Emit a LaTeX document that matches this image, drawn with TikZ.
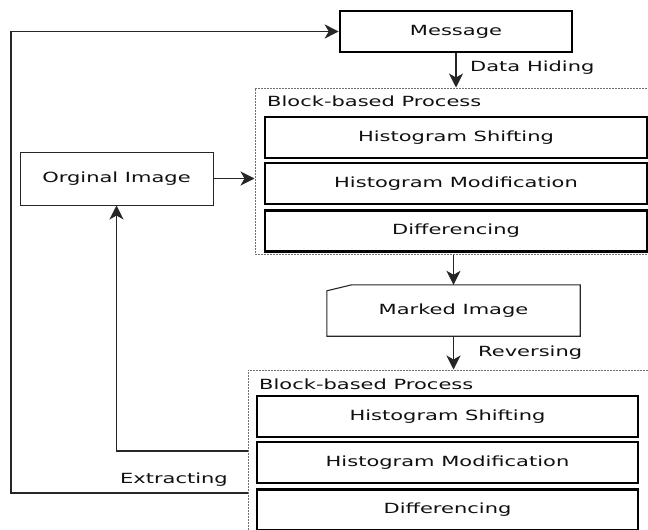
\documentclass[tikz,border=0pt]{standalone}
\usepackage{fontspec}
\setmainfont[FakeStretch=1.5]{DejaVu Sans}
\usetikzlibrary{arrows.meta}
\definecolor{txt}{HTML}{101010}
\definecolor{dotc}{HTML}{707070}
\begin{document}
\begin{tikzpicture}[x=1pt,y=-1pt,
  every node/.style={font=\fontsize{14}{16}\selectfont, text=txt, inner sep=0pt},
  thickbox/.style={draw=black, line width=2.6pt, minimum width=#1, minimum height=41pt},
  thinbox/.style={draw=black!85, line width=1pt},
  dotbox/.style={draw=dotc, line width=1pt, dash pattern=on 1.6pt off 1.4pt},
  conn/.style={draw=black!85, line width=1.3pt},
  arr/.style={conn, -{Stealth[length=14pt,width=14pt,inset=4pt]}}]
\useasboundingbox (0,0) rectangle (648,530);
% top
\node[thickbox=232pt] (msg) at (456,31.5) {Message};
\node[dotbox, minimum width=395pt, minimum height=166pt] (blk1) at (452.5,171) {};
\node[anchor=west] (t1) at (267,101) {Block-based Process};
\node[thickbox=382pt] (hs1) at (456,137.5) {Histogram Shifting};
\node[thickbox=382pt] (hm1) at (456,183.5) {Histogram Modification};
\node[thickbox=382pt] (df1) at (456,231) {Differencing};
\node[thinbox, minimum width=193pt, minimum height=53pt] (orig) at (116.5,178.5) {Orginal Image};
% marked image
\node[minimum width=253pt, minimum height=51pt] (marked) at (453.5,310.5) {Marked Image};
\draw[thinbox, line width=1.1pt] (marked.south west) -- ([yshift=-6pt]marked.north west) -- ([xshift=25pt]marked.north west) -- (marked.north east) -- (marked.south east) -- cycle;
% bottom
\node[dotbox, minimum width=402pt, minimum height=166pt] (blk2) at (449,453) {};
\node[anchor=west] (t2) at (259,384) {Block-based Process};
\node[thickbox=381pt] (hs2) at (447.5,416.5) {Histogram Shifting};
\node[thickbox=381pt] (hm2) at (447.5,462.5) {Histogram Modification};
\node[thickbox=381pt] (df2) at (447.5,510) {Differencing};
% connectors
\draw[arr] (msg.south) -- (msg.south |- blk1.north);
\node[anchor=west] (dh) at (470,68) {Data Hiding};
\draw[arr] (marked.north |- blk1.south) -- (marked.north);
\draw[arr] (marked.south) -- (marked.south |- blk2.north);
\node[anchor=west] (rv) at (478,353) {Reversing};
\draw[arr] (orig.east) -- (orig.east -| blk1.west);
\coordinate (e1) at (248,451);
\draw[arr] (e1) -| (orig.south);
\coordinate (e2) at (248,493);
\coordinate (c2) at (11,493);
\draw[arr] (e2) -- (c2) |- (msg.west);
\node[anchor=east] (ex) at (228,480) {Extracting};
\end{tikzpicture}
\end{document}
